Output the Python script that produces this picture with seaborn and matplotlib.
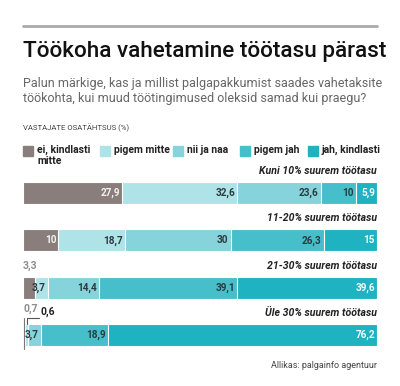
import numpy as np
import pandas as pd
import matplotlib
matplotlib.use("Agg")
import matplotlib.pyplot as plt
import seaborn as sns

# Data
groups = ['Kuni 10% suurem töötasu', '11-20% suurem töötasu',
          '21-30% suurem töötasu', 'Üle 30% suurem töötasu']
answers = ['ei, kindlasti\nmitte', 'pigem mitte', 'nii ja naa', 'pigem jah', 'jah, kindlasti']
ei_kindlasti = [27.9, 10, 3.3, 0.7]
pigem_mitte = [32.6, 18.7, 3.7, 0.6]
nii_ja_naa = [23.6, 30, 14.4, 3.7]
pigem_jah = [10, 26.3, 39.1, 18.9]
jah_kindlasti = [5.9, 15, 39.6, 76.2]

colors = ['#8a7e7c', '#aee3e8', '#86d3db', '#47bfca', '#1fb2c1']
label_colors = ['#f2f2f2', '#2b3b3f', '#2b3b3f', '#2b3b3f', '#f4fbfc']

sns.set_theme(style='white')
plt.rcParams['font.family'] = ['Roboto', 'DejaVu Sans']

series = [ei_kindlasti, pigem_mitte, nii_ja_naa, pigem_jah, jah_kindlasti]
vals = np.array(series)
cum = vals.cumsum(axis=0)

fig = plt.figure(figsize=(4, 3.86), dpi=100)
ax = fig.add_axes([0.0575, 0.0707, 0.885, 0.4905])

# stacked bars: draw cumulative totals from the back to the front
for k in range(len(series) - 1, -1, -1):
    df = pd.DataFrame({'group': groups, 'value': cum[k]})
    sns.barplot(data=df, x='value', y='group', color=colors[k], orient='h',
                width=0.465, edgecolor='white', linewidth=0.8, saturation=1, ax=ax)

ax.set_xlim(0, 100)
ax.set_ylim(3.5, -0.5)
ax.axis('off')

# value labels inside the segments
for i in range(len(groups)):
    for k in range(len(series)):
        v = vals[k, i]
        txt = f'{v:g}'.replace('.', ',')
        if v < 1:
            continue
        if i == 2 and k == 0:
            ax.text(0, i - 0.36, txt, ha='left', va='bottom', fontsize=7.5,
                    fontweight='bold', color='#8d8d8d')
            continue
        ax.text(cum[k, i] - 0.6, i, txt, ha='right', va='center', fontsize=7.2,
                fontweight='bold', color=label_colors[k])
    ax.text(100, i - 0.36, groups[i], ha='right', va='bottom', fontsize=7.6,
            fontweight='bold', style='italic', color='#222222')

# small segment labels for the last row
ax.text(0, 2.56, '0,7', ha='left', va='bottom', fontsize=7.5, fontweight='bold', color='#8d8d8d')
ax.text(5.0, 2.62, '0,6', ha='left', va='bottom', fontsize=7.5, fontweight='bold', color='#222222')
ax.plot([0.35, 0.35], [2.63, 3.3], color='#777777', lw=0.8)
ax.plot([1.0, 1.0, 4.6], [2.77, 2.65, 2.65], color='#555555', lw=0.8)

# header
fig.add_artist(plt.Line2D([0.0575, 0.9425], [1 - 26 / 386, 1 - 26 / 386],
                          color='#aaaaaa', lw=2))
fig.text(0.0575, 1 - 51 / 386, 'Töökoha vahetamine töötasu pärast', ha='left', va='center',
         fontsize=16.2, fontweight='medium', color='#111111')
fig.text(0.0575, 1 - 91 / 386,
         'Palun märkige, kas ja millist palgapakkumist saades vahetaksite\n'
         'töökohta, kui muud töötingimused oleksid samad kui praegu?',
         ha='left', va='center', fontsize=9.0, color='#666666', linespacing=1.25)
fig.text(0.0575, 1 - 128 / 386, 'VASTAJATE OSATÄHTSUS (%)', ha='left', va='center',
         fontsize=5.6, color='#444444')

# legend
leg_x = [23, 100, 173, 240, 308]
for k in range(len(answers)):
    fig.patches.append(plt.Rectangle((leg_x[k] / 400, 1 - 156 / 386), 10 / 400, 10 / 386,
                                     transform=fig.transFigure, color=colors[k]))
    fig.text((leg_x[k] + 14) / 400, 1 - 145 / 386, answers[k], ha='left', va='top',
             fontsize=7.5, fontweight='bold', color='#222222', linespacing=1.05)

fig.text(0.9425, 1 - 366 / 386, 'Allikas: palgainfo agentuur', ha='right', va='center',
         fontsize=6.5, color='#444444')

fig.savefig('out.png', dpi=100)
